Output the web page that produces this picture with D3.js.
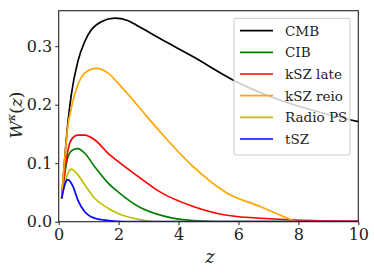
<!DOCTYPE html>
<html><head><meta charset="utf-8">
<script src="https://cdn.jsdelivr.net/npm/d3@7"></script>
<style>body{margin:0;background:#fff}svg{display:block}</style>
</head><body>
<svg id="c" width="374" height="273"></svg>
<script>
const seriesNames = ["CMB","CIB","kSZ late","kSZ reio","Radio PS","tSZ"];
const seriesColors = ["#000000","#008000","#ff0000","#ffa500","#bfbf00","#0000ff"];
const zCMB = [0.1,0.31,0.42,0.64,0.87,1.09,1.42,1.87,2.3,2.66,3.38,4.49,5.83,7.05,8.5,10];
const wCMB = [0.04,0.171,0.217,0.274,0.308,0.328,0.342,0.348,0.344,0.334,0.313,0.282,0.242,0.214,0.19,0.171];
const zCIB = [0.1,0.31,0.48,0.64,0.87,1.2,1.65,1.98,2.66,3.55,4.5,6,10];
const wCIB = [0.04,0.111,0.123,0.125,0.117,0.094,0.066,0.051,0.026,0.009,0.002,0,0];
const zKSZlate = [0.1,0.25,0.42,0.64,0.87,1.2,1.65,1.98,2.66,3.38,4.49,5.61,7.05,8.5,10];
const wKSZlate = [0.04,0.105,0.14,0.148,0.148,0.14,0.117,0.103,0.077,0.051,0.026,0.011,0.005,0.002,0.001];
const zKSZreio = [0.1,0.31,0.42,0.64,0.87,1.26,1.65,1.98,2.66,3.38,4.49,5.61,6.72,7.9];
const wKSZreio = [0.04,0.165,0.194,0.234,0.254,0.262,0.254,0.237,0.197,0.154,0.094,0.049,0.026,0];
const zRadio = [0.1,0.31,0.42,0.64,0.87,1.2,1.65,1.98,2.66,3.3,10];
const wRadio = [0.04,0.083,0.09,0.08,0.063,0.04,0.023,0.014,0.004,0,0];
const zTSZ = [0.1,0.2,0.31,0.48,0.64,0.87,1.2,1.65,2.2,10];
const wTSZ = [0.04,0.063,0.072,0.06,0.037,0.017,0.006,0.002,0,0];
const xTicks = [0,2,4,6,8,10];
const yTicks = [0.0,0.1,0.2,0.3];

const seriesZ = [zCMB,zCIB,zKSZlate,zKSZreio,zRadio,zTSZ];
const seriesW = [wCMB,wCIB,wKSZlate,wKSZreio,wRadio,wTSZ];
const FF = "'DejaVu Serif', serif";

const svg = d3.select("#c");
const L=58.7,R=358.3,T=10.7,B=221.7;
const x = d3.scaleLinear().domain([0,10]).range([L,R]);
const y = d3.scaleLinear().domain([0,0.3607]).range([B,T]);

const line = d3.line().x(d=>x(d[0])).y(d=>y(d[1])).curve(d3.curveMonotoneX);
svg.append("defs").append("clipPath").attr("id","clip").append("rect")
  .attr("x",L).attr("y",T).attr("width",R-L).attr("height",B-T);
const g = svg.append("g").attr("clip-path","url(#clip)");
seriesNames.forEach((n,i)=>{
  const pts = seriesZ[i].map((z,j)=>[z,seriesW[i][j]]);
  g.append("path").attr("d",line(pts)).attr("fill","none")
   .attr("stroke",seriesColors[i]).attr("stroke-width",1.7);
});

// axes
const xa = svg.append("g").attr("transform",`translate(0,${B})`)
  .call(d3.axisBottom(x).tickValues(xTicks).tickFormat(d3.format("d")).tickSize(3.5).tickPadding(3));
const ya = svg.append("g").attr("transform",`translate(${L},0)`)
  .call(d3.axisLeft(y).tickValues(yTicks).tickFormat(d3.format(".1f")).tickSize(3.5).tickPadding(3));
[xa,ya].forEach(a=>{
  a.attr("font-family",FF).attr("font-size",16);
  a.select(".domain").remove();
  a.selectAll("line").attr("stroke","#222").attr("stroke-width",1);
  a.selectAll("text").style("font-family",FF).style("font-size","16px").attr("fill","#222");
});
svg.append("rect").attr("x",L).attr("y",T).attr("width",R-L).attr("height",B-T)
  .attr("fill","none").attr("stroke","#222").attr("stroke-width",1.1);

// legend
const lg = svg.append("g");
lg.append("rect").attr("x",234).attr("y",18.3).attr("width",116).attr("height",136.7)
  .attr("rx",2).attr("fill","#fff").attr("fill-opacity",0.8).attr("stroke","#ccc").attr("stroke-width",1);
seriesNames.forEach((n,i)=>{
  const yy = 30.7 + i*21.66;
  lg.append("line").attr("x1",240).attr("x2",273).attr("y1",yy).attr("y2",yy)
    .attr("stroke",seriesColors[i]).attr("stroke-width",1.7);
  lg.append("text").attr("x",285).attr("y",yy+5).style("font-family",FF).style("font-size","13.5px")
    .attr("fill","#222").text(n);
});

// labels
svg.append("text").attr("x",210).attr("y",263).attr("text-anchor","middle")
  .style("font-family",FF).style("font-size","18px").attr("font-style","italic").attr("fill","#222").text("z");
const yl = svg.append("text").attr("transform","translate(22,115) rotate(-90)")
  .attr("text-anchor","middle").style("font-family",FF).style("font-size","17px").attr("fill","#222");
yl.append("tspan").attr("font-style","italic").text("W");
yl.append("tspan").attr("font-style","italic").attr("font-size",11).attr("dy",-7).text("κ");
yl.append("tspan").attr("dy",7).text("(");
yl.append("tspan").attr("font-style","italic").text("z");
yl.append("tspan").text(")");
</script>
</body></html>
